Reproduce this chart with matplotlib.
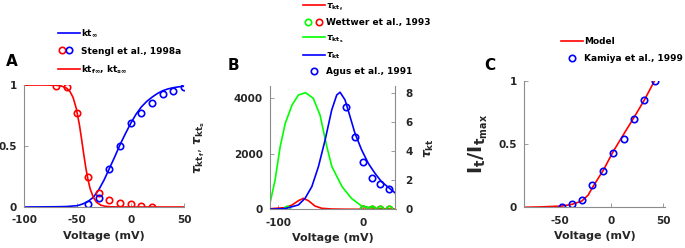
import matplotlib.pyplot as plt
import numpy as np
from matplotlib.legend_handler import HandlerTuple

plt.rcParams['font.family'] = 'DejaVu Sans'
plt.rcParams['font.weight'] = 'bold'
plt.rcParams['mathtext.fontset'] = 'dejavusans'
plt.rcParams['axes.unicode_minus'] = False

# ---- panel A: steady-state activation / inactivation
a_v_inf = [-100, -70, -60, -50, -45, -40, -35, -30, -25, -20, -15, -10, -5, 0,
           5, 10, 15, 20, 25, 30, 35, 40, 45, 50]
a_kt_inf = [0.0, 0.002, 0.004, 0.011, 0.025, 0.045, 0.08, 0.14, 0.22, 0.315, 0.41,
            0.51, 0.6, 0.685, 0.76, 0.82, 0.865, 0.9, 0.93, 0.953, 0.968, 0.978, 0.985, 0.99]
a_v_f = [-100, -80, -70, -65, -60, -57, -54, -51, -48, -46, -44, -42, -40, -38,
         -35, -32, -28, -24, -18, -10, 0, 50]
a_ktf_inf = [1.0, 1.0, 0.998, 0.992, 0.974, 0.948, 0.898, 0.808, 0.671, 0.555, 0.433,
             0.319, 0.224, 0.15, 0.079, 0.039, 0.015, 0.006, 0.0014, 0.0002, 0.0, 0.0]
a_exp_v = [-70, -60, -50, -40, -30, -20, -10, 0, 10, 20]
a_exp_inact = [0.995, 0.98, 0.77, 0.25, 0.115, 0.06, 0.035, 0.027, 0.01, 0.003]
a_exp_v2 = [-40, -30, -20, -10, 0, 10, 20, 30, 40, 50]
a_exp_act = [0.027, 0.074, 0.315, 0.5, 0.685, 0.77, 0.855, 0.93, 0.95, 0.986]

# ---- panel B: time constants
b_v_s = [-110, -104, -98, -92, -84, -76.5, -68, -59, -51, -43, -37, -25, -14, -2, 14, 38]
b_tau_s = [216, 1056, 2256, 3099, 3758, 4119, 4202, 4000, 3398, 2256, 1535, 814, 396,
           119, 36, 0]
b_v_f = [-110, -92, -84, -76.5, -70.6, -64.7, -57, -49, -37, -20, 0, 38]
b_tau_f = [20, 60, 155, 310, 396, 310, 119, 36, 10, 2, 0, 0]
b_v_kt = [-110, -92, -76.5, -68.6, -60.7, -52.9, -45, -37.2, -31.3, -27.4, -21.5,
          -15.6, -9.8, -1.9, 5.9, 13.8, 21.6, 29.4, 37.3]
b_tau_kt = [0.0, 0.05, 0.3, 0.76, 1.56, 2.94, 4.78, 6.85, 7.88, 8.07, 7.54, 6.39,
            5.24, 4.09, 3.17, 2.48, 1.9, 1.52, 1.14]
b_wett_v_s = [-90, 0, 10, 20, 30]
b_wett_s = [0, 0, 0, 0, 0]
b_wett_v_f = [0, 10, 20, 30]
b_wett_f = [0, 0, 0, 0]
b_agus_v = [-20, -10, 0, 10, 20, 30]
b_agus_tau = [7.03, 5.0, 3.28, 2.18, 1.74, 1.38]

# ---- panel C: normalised current
c_v_model = [-85, -69, -48, -38, -28.7, -22.6, -19, -7.8, 1.9, 11.3, 21.9, 31.9, 41.9]
c_i_model = [0.0, 0.003, 0.01, 0.024, 0.05, 0.097, 0.15, 0.295, 0.444, 0.57, 0.71,
             0.847, 1.0]
c_v_exp = [-48.4, -38.1, -28.7, -19.1, -7.8, 1.9, 12.2, 21.9, 31.9, 41.9]
c_i_exp = [0.002, 0.029, 0.058, 0.18, 0.29, 0.43, 0.537, 0.70, 0.845, 1.0]

W, H = 685, 248
fig = plt.figure(figsize=(6.85, 2.48), dpi=100)

def box(l, r, t, b):
    return [l / W, 1 - b / H, (r - l) / W, (b - t) / H]

spine_c = '#8c8c8c'
txt_c = '#262626'
tick_fs = 7.5

def style(ax, sides=('left', 'bottom')):
    for s in ax.spines:
        ax.spines[s].set_visible(s in sides)
        ax.spines[s].set_color(spine_c)
        ax.spines[s].set_linewidth(0.8)
    ax.tick_params(direction='in', length=3, width=0.6, color=spine_c,
                   labelsize=tick_fs, labelcolor=txt_c)
    ax.tick_params(axis='x', pad=6)
    ax.tick_params(axis='y', pad=5)
    for lab in ax.get_xticklabels() + ax.get_yticklabels():
        lab.set_fontweight('bold')

mk = dict(marker='o', ls='none', mfc='none', ms=4.6, mew=1.2)
leg_kw = dict(loc='upper left', frameon=False, borderpad=0, borderaxespad=0,
              prop=dict(weight='bold', size=6.5), handlelength=2.4, handletextpad=0.2,
              labelspacing=0.85, handler_map={tuple: HandlerTuple(ndivide=3, pad=0)})
xl_kw = dict(fontsize=8, fontweight='bold', color=txt_c, labelpad=4)

# A
axA = fig.add_axes(box(24, 184, 85, 207))
lA1, = axA.plot(a_v_inf, a_kt_inf, color='#0000ff', lw=1.2)
lA2, = axA.plot(a_v_f, a_ktf_inf, color='#ff0000', lw=1.2)
mA1, = axA.plot(a_exp_v, a_exp_inact, color='#ff0000', **mk)
mA2, = axA.plot(a_exp_v2, a_exp_act, color='#0000ff', **mk)
axA.set_xlim(-100, 50)
axA.set_ylim(0, 1)
axA.set_xticks([-100, -50, 0, 50])
axA.set_yticks([0, 0.5, 1])
axA.set_yticklabels(['0', '0.5', '1'])
axA.set_xlabel('Voltage (mV)', **xl_kw)
style(axA)
fig.legend([lA1, (mA1, mA2), lA2],
           [r'$\mathbf{kt_{\infty}}$', 'Stengl et al., 1998a',
            r'$\mathbf{kt_{f\infty}}$, $\mathbf{kt_{s\infty}}$'],
           bbox_to_anchor=(58 / W, 1 - 27 / H), **leg_kw)
fig.text(12 / W, 1 - 62 / H, 'A', fontsize=11, fontweight='bold', ha='center', va='center')

# B
axB = fig.add_axes(box(270, 395.5, 86, 209.3))
axB2 = axB.twinx()
lBs, = axB.plot(b_v_s, b_tau_s, color='#00ff00', lw=1.2)
lBf, = axB.plot(b_v_f, b_tau_f, color='#ff0000', lw=1.2)
mBf, = axB.plot(b_wett_v_f, b_wett_f, color='#ff0000', **mk)
mBs, = axB.plot(b_wett_v_s, b_wett_s, color='#00ff00', **mk)
lBk, = axB2.plot(b_v_kt, b_tau_kt, color='#0000ff', lw=1.2)
mBk, = axB2.plot(b_agus_v, b_agus_tau, color='#0000ff', **mk)
axB.set_xlim(-110, 38)
axB.set_ylim(0, 4443)
axB2.set_ylim(0, 8.5)
axB.set_xticks([-100, 0])
axB.set_yticks([0, 2000, 4000])
axB2.set_yticks([0, 2, 4, 6, 8])
axB.set_xlabel('Voltage (mV)', **xl_kw)
style(axB, ('left', 'bottom'))
style(axB2, ('right',))
axB2.tick_params(axis='y', pad=7)
axB.set_ylabel(r'$\tau_{\mathbf{kt_f}}$, $\tau_{\mathbf{kt_s}}$', fontsize=9, color=txt_c)
axB.yaxis.set_label_coords(-0.50, 0.5)
axB2.set_ylabel(r'$\tau_{\mathbf{kt}}$', fontsize=9, color=txt_c)
axB2.yaxis.set_label_coords(1.22, 0.5)
fig.legend([lBf, (mBs, mBf), lBs, lBk, mBk],
           [r'$\tau_{\mathbf{kt_f}}$', 'Wettwer et al., 1993', r'$\tau_{\mathbf{kt_s}}$',
            r'$\tau_{\mathbf{kt}}$', 'Agus et al., 1991'],
           bbox_to_anchor=(303 / W, 1 - 1 / H),
           **{**leg_kw, 'labelspacing': 0.65,
              'handler_map': {tuple: HandlerTuple(ndivide=2, pad=0)}})
fig.text(233 / W, 1 - 65 / H, 'B', fontsize=11, fontweight='bold', ha='center', va='center')

# C
axC = fig.add_axes(box(524, 665, 80.7, 207.3))
lC, = axC.plot(c_v_model, c_i_model, color='#ff0000', lw=1.2)
mC, = axC.plot(c_v_exp, c_i_exp, color='#0000ff', **mk)
axC.set_xlim(-85, 52)
axC.set_ylim(0, 1)
axC.set_xticks([-50, 0, 50])
axC.set_yticks([0, 0.5, 1])
axC.set_yticklabels(['0', '0.5', '1'])
axC.set_xlabel('Voltage (mV)', **xl_kw)
axC.set_ylabel(r'$\mathbf{I_t/I_{t_{max}}}$', fontsize=14, color=txt_c)
axC.yaxis.set_label_coords(-0.24, 0.5)
style(axC)
fig.legend([lC, mC], ['Model', 'Kamiya et al., 1999'],
           bbox_to_anchor=(561 / W, 1 - 37 / H), **leg_kw)
fig.text(490 / W, 1 - 65 / H, 'C', fontsize=11, fontweight='bold', ha='center', va='center')

fig.savefig('out.png', dpi=100)
